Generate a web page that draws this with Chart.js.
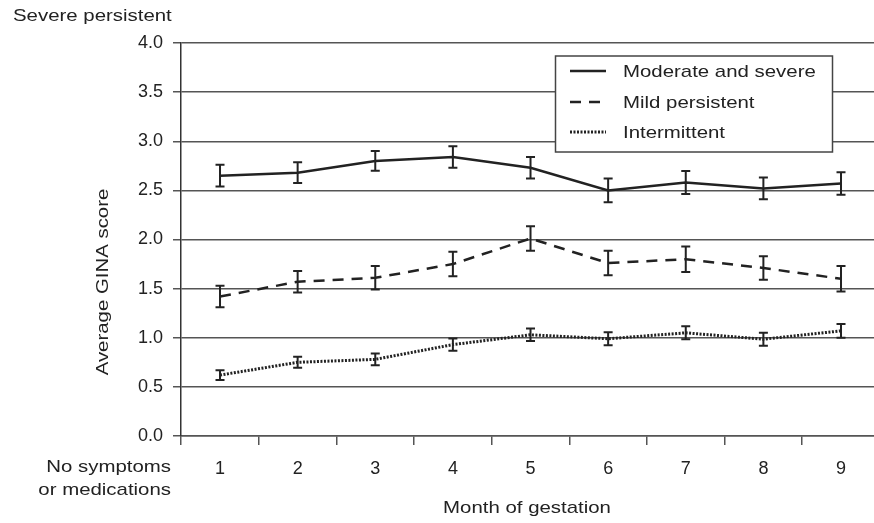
<!DOCTYPE html>
<html>
<head>
<meta charset="utf-8">
<script src="https://cdn.jsdelivr.net/npm/chart.js@4.4.1/dist/chart.umd.min.js"></script>
<style>
  html, body { margin: 0; padding: 0; background: #fff; }
  #wrap { width: 874px; height: 523px; }
</style>
</head>
<body>
<div id="wrap"><canvas id="chart" width="874" height="523"></canvas></div>
<script>
// ---- data ----
const months = [1, 2, 3, 4, 5, 6, 7, 8, 9];

const moderateSevere = [2.65, 2.68, 2.80, 2.84, 2.73, 2.50, 2.58, 2.52, 2.57];
const moderateSevereErr = [0.11, 0.105, 0.10, 0.11, 0.11, 0.12, 0.117, 0.11, 0.115];

const mildPersistent = [1.42, 1.57, 1.61, 1.75, 2.01, 1.76, 1.80, 1.71, 1.60];
const mildPersistentErr = [0.11, 0.11, 0.12, 0.125, 0.125, 0.125, 0.13, 0.12, 0.13];

const intermittent = [0.62, 0.75, 0.78, 0.93, 1.03, 0.99, 1.05, 0.985, 1.07];
const intermittentErr = [0.05, 0.056, 0.06, 0.063, 0.064, 0.066, 0.066, 0.066, 0.07];

const seriesLabels = ["Moderate and severe", "Mild persistent", "Intermittent"];
const yTicks = [0, 0.5, 1, 1.5, 2, 2.5, 3, 3.5, 4];

const INK = "#222";
const GRID = "#555";
const FONT = "'Liberation Sans', Arial, Helvetica, sans-serif";
const STRETCH = 1.2;

function toPoints(vals) {
  return vals.map((v, i) => ({ x: months[i], y: v }));
}

// text helper, the figure's lettering is a bit wider than the font
function wideText(ctx, text, x, y, align) {
  ctx.save();
  const w = ctx.measureText(text).width * STRETCH;
  let x0 = x;
  if (align === "right") x0 = x - w;
  if (align === "center") x0 = x - w / 2;
  ctx.translate(x0, y);
  ctx.scale(STRETCH, 1);
  ctx.textAlign = "left";
  ctx.fillText(text, 0, 0);
  ctx.restore();
}

// ================= ERROR BARS =================
const errorBars = {
  id: "errorBars",
  afterDatasetsDraw(chart) {
    const ctx = chart.ctx;
    const yScale = chart.scales.y;
    chart.data.datasets.forEach((ds, di) => {
      const meta = chart.getDatasetMeta(di);
      meta.data.forEach((pt, i) => {
        const v = ds.data[i].y;
        const e = ds.errors[i];
        const yTop = yScale.getPixelForValue(v + e);
        const yBot = yScale.getPixelForValue(v - e);
        ctx.save();
        ctx.strokeStyle = INK;
        ctx.lineWidth = 2;
        ctx.beginPath();
        ctx.moveTo(pt.x, yTop);
        ctx.lineTo(pt.x, yBot);
        ctx.moveTo(pt.x - 4.5, yTop);
        ctx.lineTo(pt.x + 4.5, yTop);
        ctx.moveTo(pt.x - 4.5, yBot);
        ctx.lineTo(pt.x + 4.5, yBot);
        ctx.stroke();
        ctx.restore();
      });
    });
  }
};

// ================= LEGEND + LABELS =================
const extras = {
  id: "extras",
  afterDraw(chart) {
    const ctx = chart.ctx;
    ctx.save();
    ctx.font = "17px " + FONT;
    ctx.fillStyle = INK;
    ctx.textBaseline = "middle";

    // legend box
    const bx = 555.5, by = 56, bw = 277, bh = 96;
    ctx.fillStyle = "#fff";
    ctx.fillRect(bx, by, bw, bh);
    ctx.strokeStyle = "#444";
    ctx.lineWidth = 1.5;
    ctx.strokeRect(bx, by, bw, bh);

    const rows = [71, 102, 132];
    chart.data.datasets.forEach((ds, i) => {
      ctx.strokeStyle = INK;
      ctx.lineWidth = ds.borderWidth;
      ctx.setLineDash(ds.borderDash || []);
      ctx.beginPath();
      ctx.moveTo(570, rows[i]);
      ctx.lineTo(606, rows[i]);
      ctx.stroke();
      ctx.setLineDash([]);
      ctx.fillStyle = INK;
      wideText(ctx, ds.label, 623, rows[i] + 1, "left");
    });

    // annotation texts
    wideText(ctx, "Severe persistent", 13, 16, "left");
    wideText(ctx, "No symptoms", 171, 467, "right");
    wideText(ctx, "or medications", 171, 490, "right");
    wideText(ctx, "Month of gestation", 527, 508, "center");

    ctx.translate(103, 282);
    ctx.rotate(-Math.PI / 2);
    wideText(ctx, "Average GINA score", 0, 0, "center");
    ctx.restore();
  }
};

new Chart(document.getElementById("chart"), {
  type: "line",
  data: {
    datasets: [
      {
        label: seriesLabels[0],
        data: toPoints(moderateSevere),
        errors: moderateSevereErr,
        borderColor: INK,
        borderWidth: 2.5,
        pointRadius: 0,
        tension: 0
      },
      {
        label: seriesLabels[1],
        data: toPoints(mildPersistent),
        errors: mildPersistentErr,
        borderColor: INK,
        borderWidth: 2.5,
        borderDash: [11, 8],
        pointRadius: 0,
        tension: 0
      },
      {
        label: seriesLabels[2],
        data: toPoints(intermittent),
        errors: intermittentErr,
        borderColor: INK,
        borderWidth: 3,
        borderDash: [2, 1.5],
        pointRadius: 0,
        tension: 0
      }
    ]
  },
  options: {
    responsive: false,
    animation: false,
    devicePixelRatio: 1,
    layout: { padding: { top: 43, left: 0, right: 0, bottom: 0 } },
    plugins: {
      legend: { display: false },
      tooltip: { enabled: false }
    },
    scales: {
      x: {
        type: "linear",
        min: 0.4974,
        max: 9.425,
        afterFit(scale) { scale.height = 87; },
        afterBuildTicks(scale) {
          const t = [];
          for (let v = 0.5; v <= 9; v += 0.5) t.push({ value: v });
          scale.ticks = t;
        },
        grid: {
          drawOnChartArea: false,
          drawTicks: true,
          tickLength: 9,
          lineWidth: 1.5,
          color: (c) => (c.tick && Number.isInteger(c.tick.value)) ? "rgba(0,0,0,0)" : GRID
        },
        border: { display: true, color: GRID, width: 1.5 },
        ticks: {
          autoSkip: false,
          maxRotation: 0,
          padding: 13,
          color: INK,
          font: { size: 18, family: FONT },
          callback: (v) => Number.isInteger(v) ? String(v) : ""
        }
      },
      y: {
        min: 0,
        max: 4,
        afterFit(scale) { scale.width = 181; },
        afterBuildTicks(scale) {
          scale.ticks = yTicks.map((v) => ({ value: v }));
        },
        grid: {
          color: GRID,
          lineWidth: 1.5,
          drawTicks: true,
          tickLength: 8
        },
        border: { display: true, color: "#333", width: 1.5 },
        ticks: {
          padding: 10,
          color: INK,
          font: { size: 18, family: FONT },
          callback: (v) => v.toFixed(1)
        }
      }
    }
  },
  plugins: [errorBars, extras]
});
</script>
</body>
</html>
